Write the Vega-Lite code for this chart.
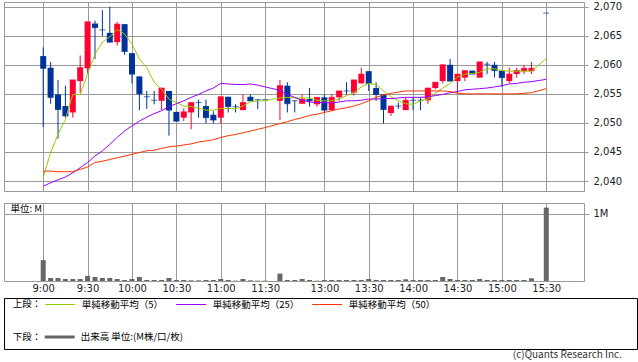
{
  "$schema": "https://vega.github.io/schema/vega-lite/v6.json",
  "padding": {"left": 3, "top": 1, "right": 0, "bottom": 0},
  "background": "white",
  "datasets": {
    "k": [
      {"i":0,"t":"9:00","o":2061.5,"h":2063,"l":2049.3,"c":2059.4,"d":"down","v":0.31,"ma5":2040.6,"ma25":2039.1,"ma50":2041.7},
      {"i":1,"t":"9:05","o":2059.5,"h":2060.5,"l":2053.3,"c":2054.4,"d":"down","v":0.045,"ma5":2044.9,"ma25":2039.7,"ma50":2041.7},
      {"i":2,"t":"9:10","o":2054.9,"h":2057.4,"l":2047.3,"c":2052.3,"d":"down","v":0.045,"ma5":2048.0,"ma25":2040.2,"ma50":2041.6},
      {"i":3,"t":"9:15","o":2052.9,"h":2056.4,"l":2050.9,"c":2051.2,"d":"down","v":0.03,"ma5":2050.6,"ma25":2040.7,"ma50":2041.6},
      {"i":4,"t":"9:20","o":2051.8,"h":2057.4,"l":2050.9,"c":2057.4,"d":"up","v":0.03,"ma5":2054.9,"ma25":2041.4,"ma50":2041.6},
      {"i":5,"t":"9:25","o":2057.2,"h":2061.6,"l":2055.2,"c":2059.5,"d":"up","v":0.03,"ma5":2054.9,"ma25":2042.3,"ma50":2042.0},
      {"i":6,"t":"9:30","o":2059.4,"h":2067.4,"l":2058.4,"c":2067.4,"d":"up","v":0.075,"ma5":2058.4,"ma25":2043.2,"ma50":2042.4},
      {"i":7,"t":"9:35","o":2067.1,"h":2067.6,"l":2061.0,"c":2066.4,"d":"down","v":0.06,"ma5":2061.8,"ma25":2044.3,"ma50":2043.2},
      {"i":8,"t":"9:40","o":2066.0,"h":2069.4,"l":2064.9,"c":2066.0,"d":"down","v":0.045,"ma5":2063.9,"ma25":2045.2,"ma50":2043.4},
      {"i":9,"t":"9:45","o":2065.5,"h":2070.0,"l":2063.9,"c":2063.9,"d":"down","v":0.045,"ma5":2064.8,"ma25":2046.3,"ma50":2043.7},
      {"i":10,"t":"9:50","o":2063.9,"h":2067.4,"l":2063.3,"c":2067.0,"d":"up","v":0.03,"ma5":2066.1,"ma25":2047.5,"ma50":2044.0},
      {"i":11,"t":"9:55","o":2067.0,"h":2067.0,"l":2061.7,"c":2062.3,"d":"down","v":0.015,"ma5":2065.3,"ma25":2048.6,"ma50":2044.3},
      {"i":12,"t":"10:00","o":2062.0,"h":2062.0,"l":2056.8,"c":2058.4,"d":"down","v":0.03,"ma5":2063.6,"ma25":2049.5,"ma50":2044.6},
      {"i":13,"t":"10:05","o":2058.0,"h":2058.0,"l":2052.2,"c":2055.0,"d":"down","v":0.06,"ma5":2061.0,"ma25":2050.3,"ma50":2044.9},
      {"i":14,"t":"10:10","o":2054.5,"h":2055.5,"l":2052.4,"c":2054.5,"d":"down","v":0.015,"ma5":2059.5,"ma25":2051.0,"ma50":2045.2},
      {"i":15,"t":"10:15","o":2053.9,"h":2055.5,"l":2053.2,"c":2053.9,"d":"down","v":0.015,"ma5":2057.0,"ma25":2051.6,"ma50":2045.3},
      {"i":16,"t":"10:20","o":2053.8,"h":2056.0,"l":2052.2,"c":2056.0,"d":"up","v":0.015,"ma5":2055.8,"ma25":2052.1,"ma50":2045.6},
      {"i":17,"t":"10:25","o":2055.5,"h":2055.5,"l":2047.8,"c":2052.2,"d":"down","v":0.045,"ma5":2054.1,"ma25":2052.8,"ma50":2045.9},
      {"i":18,"t":"10:30","o":2051.9,"h":2051.9,"l":2050.3,"c":2050.3,"d":"down","v":0.015,"ma5":2053.5,"ma25":2053.3,"ma50":2046.0},
      {"i":19,"t":"10:35","o":2050.9,"h":2052.5,"l":2050.3,"c":2051.9,"d":"up","v":0.015,"ma5":2052.9,"ma25":2053.8,"ma50":2046.2},
      {"i":20,"t":"10:40","o":2051.8,"h":2053.5,"l":2048.9,"c":2053.5,"d":"up","v":0.01,"ma5":2052.8,"ma25":2054.4,"ma50":2046.4},
      {"i":21,"t":"10:45","o":2053.5,"h":2054.0,"l":2050.9,"c":2053.5,"d":"down","v":0.01,"ma5":2052.5,"ma25":2054.9,"ma50":2046.7},
      {"i":22,"t":"10:50","o":2052.9,"h":2054.0,"l":2049.9,"c":2050.9,"d":"down","v":0.015,"ma5":2052.2,"ma25":2055.5,"ma50":2046.9},
      {"i":23,"t":"10:55","o":2051.4,"h":2052.0,"l":2049.9,"c":2050.5,"d":"down","v":0.015,"ma5":2052.2,"ma25":2056.0,"ma50":2047.1},
      {"i":24,"t":"11:00","o":2050.9,"h":2054.5,"l":2049.9,"c":2054.5,"d":"up","v":0.03,"ma5":2052.5,"ma25":2056.8,"ma50":2047.5},
      {"i":25,"t":"11:05","o":2054.5,"h":2054.5,"l":2051.8,"c":2052.8,"d":"down","v":0.015,"ma5":2052.5,"ma25":2056.7,"ma50":2047.8},
      {"i":26,"t":"11:10","o":2052.8,"h":2053.2,"l":2051.8,"c":2052.8,"d":"down","v":0.005,"ma5":2052.4,"ma25":2056.6,"ma50":2048.0},
      {"i":27,"t":"11:15","o":2052.2,"h":2054.9,"l":2052.2,"c":2053.5,"d":"up","v":0.03,"ma5":2052.9,"ma25":2056.6,"ma50":2048.3},
      {"i":28,"t":"11:20","o":2054.5,"h":2054.9,"l":2053.8,"c":2053.8,"d":"down","v":0.01,"ma5":2053.6,"ma25":2056.7,"ma50":2048.6},
      {"i":29,"t":"11:25","o":2054.0,"h":2054.0,"l":2052.4,"c":2054.0,"d":"down","v":0.005,"ma5":2053.8,"ma25":2056.5,"ma50":2048.9},
      {"i":30,"t":"11:30","o":2054.0,"h":2054.0,"l":2054.0,"c":2054.0,"d":"down","v":0.005,"ma5":2053.8,"ma25":2056.2,"ma50":2049.2},
      {"i":32,"t":"12:30","o":2053.8,"h":2057.4,"l":2050.5,"c":2056.4,"d":"up","v":0.11,"ma5":2054.3,"ma25":2055.6,"ma50":2049.9},
      {"i":33,"t":"12:35","o":2056.4,"h":2057.0,"l":2051.8,"c":2053.3,"d":"down","v":0.015,"ma5":2054.4,"ma25":2054.9,"ma50":2050.2},
      {"i":34,"t":"12:40","o":2053.8,"h":2053.9,"l":2051.8,"c":2053.8,"d":"down","v":0.015,"ma5":2054.3,"ma25":2054.4,"ma50":2050.6},
      {"i":35,"t":"12:45","o":2053.3,"h":2054.9,"l":2053.3,"c":2054.1,"d":"up","v":0.03,"ma5":2054.3,"ma25":2053.9,"ma50":2050.9},
      {"i":36,"t":"12:50","o":2054.1,"h":2056.0,"l":2052.8,"c":2053.8,"d":"down","v":0.015,"ma5":2054.3,"ma25":2053.6,"ma50":2051.3},
      {"i":37,"t":"12:55","o":2053.2,"h":2054.4,"l":2052.8,"c":2054.4,"d":"up","v":0.005,"ma5":2053.9,"ma25":2053.5,"ma50":2051.5},
      {"i":38,"t":"13:00","o":2054.4,"h":2054.9,"l":2051.8,"c":2052.2,"d":"down","v":0.015,"ma5":2053.8,"ma25":2053.5,"ma50":2051.8},
      {"i":39,"t":"13:05","o":2052.2,"h":2054.9,"l":2052.1,"c":2054.4,"d":"up","v":0.015,"ma5":2053.8,"ma25":2053.4,"ma50":2052.1},
      {"i":40,"t":"13:10","o":2054.4,"h":2055.5,"l":2053.8,"c":2055.5,"d":"up","v":0.015,"ma5":2054.1,"ma25":2053.6,"ma50":2052.4},
      {"i":41,"t":"13:15","o":2055.5,"h":2057.0,"l":2054.9,"c":2055.5,"d":"down","v":0.015,"ma5":2054.7,"ma25":2053.8,"ma50":2052.6},
      {"i":42,"t":"13:20","o":2055.2,"h":2057.4,"l":2054.7,"c":2057.4,"d":"up","v":0.015,"ma5":2055.2,"ma25":2053.8,"ma50":2052.9},
      {"i":43,"t":"13:25","o":2056.8,"h":2059.5,"l":2056.8,"c":2058.4,"d":"up","v":0.015,"ma5":2056.2,"ma25":2053.9,"ma50":2053.3},
      {"i":44,"t":"13:30","o":2058.9,"h":2058.9,"l":2055.5,"c":2056.8,"d":"down","v":0.03,"ma5":2056.8,"ma25":2054.1,"ma50":2053.8},
      {"i":45,"t":"13:35","o":2056.0,"h":2057.0,"l":2053.8,"c":2054.9,"d":"down","v":0.015,"ma5":2056.6,"ma25":2054.1,"ma50":2054.4},
      {"i":46,"t":"13:40","o":2054.9,"h":2054.9,"l":2049.9,"c":2052.3,"d":"down","v":0.015,"ma5":2055.5,"ma25":2054.2,"ma50":2054.8},
      {"i":47,"t":"13:45","o":2051.7,"h":2052.9,"l":2051.2,"c":2052.9,"d":"up","v":0.015,"ma5":2054.5,"ma25":2054.2,"ma50":2055.1},
      {"i":48,"t":"13:50","o":2052.9,"h":2053.5,"l":2052.4,"c":2052.9,"d":"down","v":0.015,"ma5":2053.8,"ma25":2054.3,"ma50":2055.3},
      {"i":49,"t":"13:55","o":2052.2,"h":2054.4,"l":2052.2,"c":2053.9,"d":"up","v":0.025,"ma5":2053.3,"ma25":2054.4,"ma50":2055.5},
      {"i":50,"t":"14:00","o":2053.9,"h":2054.4,"l":2052.2,"c":2053.9,"d":"down","v":0.015,"ma5":2053.2,"ma25":2054.4,"ma50":2055.5},
      {"i":51,"t":"14:05","o":2053.9,"h":2054.4,"l":2052.2,"c":2053.9,"d":"down","v":0.015,"ma5":2053.8,"ma25":2054.4,"ma50":2055.5},
      {"i":52,"t":"14:10","o":2053.9,"h":2056.0,"l":2053.3,"c":2056.0,"d":"up","v":0.015,"ma5":2054.1,"ma25":2054.5,"ma50":2055.5},
      {"i":53,"t":"14:15","o":2056.0,"h":2057.0,"l":2055.8,"c":2057.0,"d":"up","v":0.015,"ma5":2055.1,"ma25":2054.7,"ma50":2055.5},
      {"i":54,"t":"14:20","o":2057.2,"h":2060.0,"l":2056.8,"c":2060.0,"d":"up","v":0.06,"ma5":2056.0,"ma25":2054.9,"ma50":2055.5},
      {"i":55,"t":"14:25","o":2060.0,"h":2061.0,"l":2057.2,"c":2057.2,"d":"down","v":0.03,"ma5":2056.8,"ma25":2055.2,"ma50":2055.4},
      {"i":56,"t":"14:30","o":2057.2,"h":2058.4,"l":2055.1,"c":2058.4,"d":"up","v":0.015,"ma5":2057.9,"ma25":2055.4,"ma50":2055.1},
      {"i":57,"t":"14:35","o":2057.8,"h":2059.0,"l":2057.2,"c":2059.0,"d":"up","v":0.015,"ma5":2058.4,"ma25":2055.7,"ma50":2055.0},
      {"i":58,"t":"14:40","o":2059.0,"h":2059.0,"l":2058.4,"c":2058.4,"d":"down","v":0.015,"ma5":2058.5,"ma25":2055.8,"ma50":2055.0},
      {"i":59,"t":"14:45","o":2057.8,"h":2060.5,"l":2057.8,"c":2060.5,"d":"up","v":0.03,"ma5":2058.7,"ma25":2055.9,"ma50":2055.0},
      {"i":60,"t":"14:50","o":2060.1,"h":2060.5,"l":2058.4,"c":2060.1,"d":"down","v":0.015,"ma5":2059.3,"ma25":2056.0,"ma50":2055.0},
      {"i":61,"t":"14:55","o":2060.0,"h":2060.5,"l":2057.8,"c":2059.0,"d":"down","v":0.015,"ma5":2059.3,"ma25":2056.2,"ma50":2055.0},
      {"i":62,"t":"15:00","o":2059.0,"h":2059.0,"l":2056.2,"c":2057.8,"d":"down","v":0.015,"ma5":2059.0,"ma25":2056.4,"ma50":2055.0},
      {"i":63,"t":"15:05","o":2057.2,"h":2059.5,"l":2056.8,"c":2058.4,"d":"up","v":0.015,"ma5":2058.9,"ma25":2056.7,"ma50":2055.0},
      {"i":64,"t":"15:10","o":2058.4,"h":2059.5,"l":2057.8,"c":2059.0,"d":"up","v":0.015,"ma5":2058.9,"ma25":2056.8,"ma50":2055.0},
      {"i":65,"t":"15:15","o":2058.9,"h":2060.0,"l":2058.4,"c":2059.4,"d":"up","v":0.015,"ma5":2058.9,"ma25":2057.0,"ma50":2055.1},
      {"i":66,"t":"15:20","o":2058.9,"h":2060.5,"l":2058.4,"c":2059.4,"d":"up","v":0.04,"ma5":2058.9,"ma25":2057.1,"ma50":2055.2},
      {"i":68,"t":"15:30","o":2068.9,"h":2068.9,"l":2068.9,"c":2068.9,"d":"down","v":1.09,"ma5":2061.1,"ma25":2057.5,"ma50":2055.9}
    ]
  },
  "config": {
    "view": {"stroke": "#999999", "strokeWidth": 1},
    "axis": {"labelFont": "DejaVu Sans", "labelFontSize": 10, "labelColor": "#222222", "gridColor": "#999999", "gridOpacity": 1, "gridWidth": 1, "tickColor": "#999999", "domain": false, "title": null, "labelOverlap": false},
    "legend": {"labelFont": "Noto Sans CJK JP", "labelFontSize": 9.5, "labelColor": "#000000", "titleFont": "Noto Sans CJK JP", "titleFontSize": 9.5, "titleFontWeight": "normal", "titleColor": "#000000", "padding": 0, "labelLimit": 300}
  },
  "spacing": 3,
  "vconcat": [
    {
      "spacing": 12,
      "bounds": "flush",
      "vconcat": [
        {
          "width": 580,
          "height": 189,
          "data": {"name": "k"},
          "encoding": {
            "x": {"field": "i", "type": "quantitative", "scale": {"domain": [-5.3, 73.1], "nice": false, "zero": false, "padding": 0}, "axis": {"values": [0, 6, 12, 18, 24, 30, 38, 44, 50, 56, 62, 68], "labels": false, "ticks": false, "grid": true, "title": null}}
          },
          "layer": [
            {
              "mark": {"type": "rule", "strokeWidth": 1},
              "encoding": {
                "y": {"field": "l", "type": "quantitative", "scale": {"domain": [2038.28, 2070.81], "nice": false, "zero": false, "padding": 0}, "axis": {"orient": "right", "values": [2040, 2045, 2050, 2055, 2060, 2065, 2070], "format": ",", "grid": true, "tickSize": 4, "labelPadding": 5, "title": null}},
                "y2": {"field": "h"},
                "color": {"field": "d", "type": "nominal", "scale": {"domain": ["up", "down"], "range": ["#ff0033", "#003399"]}, "legend": null}
              }
            },
            {
              "mark": {"type": "bar", "width": 6},
              "encoding": {
                "y": {"field": "o", "type": "quantitative", "axis": {"orient": "right", "values": [2040, 2045, 2050, 2055, 2060, 2065, 2070], "format": ",", "grid": true, "tickSize": 4, "labelPadding": 5, "title": null}},
                "y2": {"field": "c"},
                "color": {"field": "d", "type": "nominal", "legend": null}
              }
            },
            {
              "mark": {"type": "tick", "orient": "horizontal", "size": 6, "thickness": 1},
              "encoding": {
                "y": {"field": "c", "type": "quantitative", "axis": {"orient": "right", "values": [2040, 2045, 2050, 2055, 2060, 2065, 2070], "format": ",", "grid": true, "tickSize": 4, "labelPadding": 5, "title": null}},
                "color": {"field": "d", "type": "nominal", "legend": null}
              }
            },
            {
              "transform": [{"fold": ["ma5", "ma25", "ma50"], "as": ["s", "m"]}],
              "mark": {"type": "line", "strokeWidth": 1},
              "encoding": {
                "y": {"field": "m", "type": "quantitative", "axis": {"orient": "right", "values": [2040, 2045, 2050, 2055, 2060, 2065, 2070], "format": ",", "grid": true, "tickSize": 4, "labelPadding": 5, "title": null}},
                "stroke": {
                  "field": "s", "type": "nominal",
                  "scale": {"domain": ["ma5", "ma25", "ma50"], "range": ["#99cc00", "#9900ff", "#ff3300"]},
                  "legend": {
                    "title": "上段：", "orient": "none", "legendX": 8.7, "legendY": 287, "direction": "horizontal",
                    "titleOrient": "left", "titleAnchor": "middle", "titleBaseline": "top", "titlePadding": 3,
                    "symbolType": "stroke", "symbolSize": 900, "symbolStrokeWidth": 1, "labelOffset": 6, "columnPadding": 10,
                    "labelExpr": "datum.label == 'ma5' ? '単純移動平均（5）' : datum.label == 'ma25' ? '単純移動平均（25）' : '単純移動平均（50）'"
                  }
                }
              }
            }
          ]
        },
        {
          "width": 580,
          "height": 78,
          "data": {"name": "k"},
          "mark": {"type": "bar", "width": 5},
          "encoding": {
            "x": {"field": "i", "type": "quantitative", "scale": {"domain": [-5.3, 73.1], "nice": false, "zero": false, "padding": 0}, "axis": {"values": [0, 6, 12, 18, 24, 30, 38, 44, 50, 56, 62, 68], "grid": true, "ticks": false, "labelPadding": 2, "labelFlush": false, "labelExpr": "['9:00','9:30','10:00','10:30','11:00','11:30','13:00','13:30','14:00','14:30','15:00','15:30'][indexof([0,6,12,18,24,30,38,44,50,56,62,68], datum.value)]", "title": null}},
            "y": {"field": "v", "type": "quantitative", "scale": {"domain": [0, 1.159], "nice": false, "padding": 0}, "axis": {"orient": "right", "values": [1], "labelExpr": "'1M'", "grid": true, "tickSize": 5, "labelPadding": 4, "title": "単位: M", "titleAngle": 0, "titleX": -574, "titleY": 5, "titleAlign": "left", "titleBaseline": "middle", "titleFont": "Noto Sans CJK JP", "titleFontSize": 9.5, "titleFontWeight": "normal", "titleColor": "#000000"}},
            "fill": {
              "datum": "出来高 単位:(M株/口/枚)", "type": "nominal",
              "scale": {"range": ["#666666"]},
              "legend": {
                "title": "下段：", "orient": "none", "legendX": 8.7, "legendY": 320,
                "titleOrient": "left", "titleAnchor": "middle", "titleBaseline": "top", "titlePadding": 3,
                "symbolType": "M-1,-0.1H1V0.1H-1Z", "symbolSize": 900, "symbolStrokeWidth": 0, "labelOffset": 6
              }
            }
          }
        }
      ]
    },
    {
      "width": 633,
      "height": 51,
      "data": {"values": [{"a": ""}]},
      "mark": {"type": "text"},
      "encoding": {"text": {"field": "a"}},
      "view": {"stroke": "#000000", "strokeWidth": 1},
      "title": {"text": "(c)Quants Research Inc.", "orient": "bottom", "anchor": "end", "baseline": "top", "offset": 1, "dx": -15, "font": "Noto Sans CJK JP", "fontSize": 10, "fontWeight": "normal", "color": "#333333"}
    }
  ]
}
